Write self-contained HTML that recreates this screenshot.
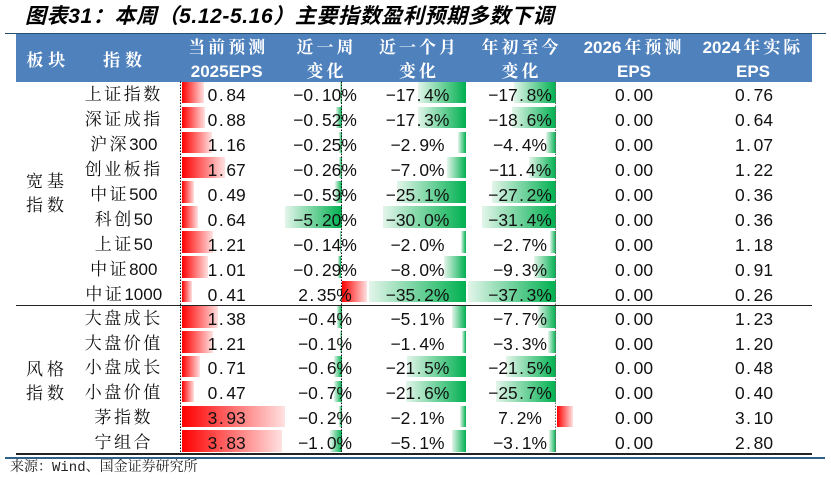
<!DOCTYPE html>
<html><head><meta charset="utf-8">
<style>
*{margin:0;padding:0}
body{width:831px;height:479px;background:#fff;position:relative;overflow:hidden;font-family:"Liberation Sans","Noto Serif CJK SC",serif;color:#111}
.title{position:absolute;left:25px;top:4.5px;line-height:24px;font-size:21px;letter-spacing:0.6px;font-weight:bold;font-style:italic;font-family:"Liberation Sans","Noto Sans CJK SC",sans-serif;white-space:nowrap;color:#000}
.ln{position:absolute}
.hd{position:absolute;left:16px;top:34px;width:796px;height:47.5px;background:#4f81bd}
.h{position:absolute;top:36.1px;width:140px;text-align:center;line-height:24px;font-size:17px;font-weight:bold;color:#fff;white-space:nowrap;font-family:"Liberation Sans","Noto Serif CJK SC",serif}
.h s{text-decoration:none;letter-spacing:3px;padding-left:3px}
.h.one{top:49.1px}
.h.one s{letter-spacing:5px;padding-left:5px}
.blk{position:absolute;left:5px;width:80px;text-align:center;line-height:24px;font-size:17px;white-space:nowrap}
.blk s{text-decoration:none;letter-spacing:4px;padding-left:4px}
.row{position:absolute;left:0;width:831px;height:25px}
.t{position:absolute;top:2.8px;width:120px;height:25px;line-height:24.9px;text-align:center;font-size:17.4px;white-space:nowrap;z-index:2;color:#111}
.t.a{font-size:17px}
.lw .t{top:1.6px}
.t s{text-decoration:none;letter-spacing:2.5px;padding-left:2.5px}
.t i{font-style:normal;display:inline-block;width:9px;text-indent:1.5px;text-align:left}
.a{left:62.5px}.c3{left:166.7px}.c4{left:265px}.c5{left:357.5px}.c6{left:460px}.c7{left:574px}.c8{left:694px}
b{position:absolute;top:1.3px;height:21.4px;display:block}
b.r{background:linear-gradient(90deg,#ff0000,#ffe1e1)}
b.g{background:linear-gradient(270deg,#00b050,#e3f5ea)}
svg{position:absolute;left:0;top:0;z-index:1}
.src{position:absolute;left:10px;top:459px;line-height:18px;font-size:14px;font-family:"Liberation Mono","Noto Serif CJK SC",serif;color:#222;white-space:nowrap}
</style></head><body>
<div class="title">图表31：本周（5.12-5.16）主要指数盈利预期多数下调</div>
<div class="ln" style="left:5px;top:32.6px;width:821px;height:1.8px;background:#24506e"></div>
<div class="hd"></div>
<div class="h one" style="left:-24.2px"><s>板块</s></div>
<div class="h one" style="left:52.5px"><s>指数</s></div>
<div class="h" style="left:156.7px"><s>当前预测</s><br>2025EPS</div>
<div class="h" style="left:255px"><s>近一周</s><br><s>变化</s></div>
<div class="h" style="left:347.5px"><s>近一个月</s><br><s>变化</s></div>
<div class="h" style="left:450px"><s>年初至今</s><br><s>变化</s></div>
<div class="h" style="left:564px">2026<s>年预测</s><br>EPS</div>
<div class="h" style="left:683px">2024<s>年实际</s><br>EPS</div>

<div class="blk" style="top:169.6px"><s>宽基</s><br><s>指数</s></div>
<div class="blk" style="top:357.6px"><s>风格</s><br><s>指数</s></div>

<div class="row" style="top:80.6px">
<b class="r" style="left:181.5px;width:22px"></b>
<b class="g" style="left:340px;width:1.5px"></b>
<b class="g" style="left:418px;width:48px"></b>
<b class="g" style="left:514.2px;width:41.8px"></b>
<div class="t a"><s>上证指数</s></div><div class="t c3">0<i>.</i>84</div><div class="t c4">−0<i>.</i>10%</div><div class="t c5">−17<i>.</i>4%</div><div class="t c6">−17<i>.</i>8%</div><div class="t c7">0<i>.</i>00</div><div class="t c8">0<i>.</i>76</div>
</div>
<div class="row" style="top:105.5px">
<b class="r" style="left:181.5px;width:23.1px"></b>
<b class="g" style="left:335.5px;width:6px"></b>
<b class="g" style="left:418.3px;width:47.7px"></b>
<b class="g" style="left:512.3px;width:43.7px"></b>
<div class="t a"><s>深证成指</s></div><div class="t c3">0<i>.</i>88</div><div class="t c4">−0<i>.</i>52%</div><div class="t c5">−17<i>.</i>3%</div><div class="t c6">−18<i>.</i>6%</div><div class="t c7">0<i>.</i>00</div><div class="t c8">0<i>.</i>64</div>
</div>
<div class="row" style="top:130.4px">
<b class="r" style="left:181.5px;width:30.4px"></b>
<b class="g" style="left:338.5px;width:3px"></b>
<b class="g" style="left:458px;width:8px"></b>
<b class="g" style="left:545.7px;width:10.3px"></b>
<div class="t a"><s>沪深</s>300</div><div class="t c3">1<i>.</i>16</div><div class="t c4">−0<i>.</i>25%</div><div class="t c5">−2<i>.</i>9%</div><div class="t c6">−4<i>.</i>4%</div><div class="t c7">0<i>.</i>00</div><div class="t c8">1<i>.</i>07</div>
</div>
<div class="row" style="top:155.3px">
<b class="r" style="left:181.5px;width:43.8px"></b>
<b class="g" style="left:338.5px;width:3px"></b>
<b class="g" style="left:446.7px;width:19.3px"></b>
<b class="g" style="left:529.2px;width:26.8px"></b>
<div class="t a"><s>创业板指</s></div><div class="t c3">1<i>.</i>67</div><div class="t c4">−0<i>.</i>26%</div><div class="t c5">−7<i>.</i>0%</div><div class="t c6">−11<i>.</i>4%</div><div class="t c7">0<i>.</i>00</div><div class="t c8">1<i>.</i>22</div>
</div>
<div class="row" style="top:180.2px">
<b class="r" style="left:181.5px;width:12.8px"></b>
<b class="g" style="left:334.5px;width:7px"></b>
<b class="g" style="left:396.7px;width:69.3px"></b>
<b class="g" style="left:492.1px;width:63.9px"></b>
<div class="t a"><s>中证</s>500</div><div class="t c3">0<i>.</i>49</div><div class="t c4">−0<i>.</i>59%</div><div class="t c5">−25<i>.</i>1%</div><div class="t c6">−27<i>.</i>2%</div><div class="t c7">0<i>.</i>00</div><div class="t c8">0<i>.</i>36</div>
</div>
<div class="row" style="top:205.1px">
<b class="r" style="left:181.5px;width:16.8px"></b>
<b class="g" style="left:284.5px;width:57px"></b>
<b class="g" style="left:383.2px;width:82.8px"></b>
<b class="g" style="left:482.2px;width:73.8px"></b>
<div class="t a"><s>科创</s>50</div><div class="t c3">0<i>.</i>64</div><div class="t c4">−5<i>.</i>20%</div><div class="t c5">−30<i>.</i>0%</div><div class="t c6">−31<i>.</i>4%</div><div class="t c7">0<i>.</i>00</div><div class="t c8">0<i>.</i>36</div>
</div>
<div class="row" style="top:230px">
<b class="r" style="left:181.5px;width:31.7px"></b>
<b class="g" style="left:339.7px;width:1.8px"></b>
<b class="g" style="left:460.5px;width:5.5px"></b>
<b class="g" style="left:549.7px;width:6.3px"></b>
<div class="t a"><s>上证</s>50</div><div class="t c3">1<i>.</i>21</div><div class="t c4">−0<i>.</i>14%</div><div class="t c5">−2<i>.</i>0%</div><div class="t c6">−2<i>.</i>7%</div><div class="t c7">0<i>.</i>00</div><div class="t c8">1<i>.</i>18</div>
</div>
<div class="row" style="top:254.9px">
<b class="r" style="left:181.5px;width:26.5px"></b>
<b class="g" style="left:338.1px;width:3.4px"></b>
<b class="g" style="left:443.9px;width:22.1px"></b>
<b class="g" style="left:534.1px;width:21.9px"></b>
<div class="t a"><s>中证</s>800</div><div class="t c3">1<i>.</i>01</div><div class="t c4">−0<i>.</i>29%</div><div class="t c5">−8<i>.</i>0%</div><div class="t c6">−9<i>.</i>3%</div><div class="t c7">0<i>.</i>00</div><div class="t c8">0<i>.</i>91</div>
</div>
<div class="row" style="top:279.8px">
<b class="r" style="left:181.5px;width:10.7px"></b>
<b class="r" style="left:342.3px;width:25px"></b>
<b class="g" style="left:368.8px;width:97.2px"></b>
<b class="g" style="left:468.3px;width:87.7px"></b>
<div class="t a"><s>中证</s>1000</div><div class="t c3">0<i>.</i>41</div><div class="t c4">2<i>.</i>35%</div><div class="t c5">−35<i>.</i>2%</div><div class="t c6">−37<i>.</i>3%</div><div class="t c7">0<i>.</i>00</div><div class="t c8">0<i>.</i>26</div>
</div>

<div class="row lw" style="top:305.2px">
<b class="r" style="left:181.5px;width:36.2px"></b>
<b class="g" style="left:337px;width:4.5px"></b>
<b class="g" style="left:451.9px;width:14.1px"></b>
<b class="g" style="left:537.9px;width:18.1px"></b>
<div class="t a"><s>大盘成长</s></div><div class="t c3">1<i>.</i>38</div><div class="t c4">−0<i>.</i>4%</div><div class="t c5">−5<i>.</i>1%</div><div class="t c6">−7<i>.</i>7%</div><div class="t c7">0<i>.</i>00</div><div class="t c8">1<i>.</i>23</div>
</div>
<div class="row lw" style="top:330px">
<b class="r" style="left:181.5px;width:31.7px"></b>
<b class="g" style="left:340px;width:1.5px"></b>
<b class="g" style="left:462.1px;width:3.9px"></b>
<b class="g" style="left:548.2px;width:7.8px"></b>
<div class="t a"><s>大盘价值</s></div><div class="t c3">1<i>.</i>21</div><div class="t c4">−0<i>.</i>1%</div><div class="t c5">−1<i>.</i>4%</div><div class="t c6">−3<i>.</i>3%</div><div class="t c7">0<i>.</i>00</div><div class="t c8">1<i>.</i>20</div>
</div>
<div class="row lw" style="top:354.8px">
<b class="r" style="left:181.5px;width:18.6px"></b>
<b class="g" style="left:334px;width:7.5px"></b>
<b class="g" style="left:406.7px;width:59.3px"></b>
<b class="g" style="left:505.5px;width:50.5px"></b>
<div class="t a"><s>小盘成长</s></div><div class="t c3">0<i>.</i>71</div><div class="t c4">−0<i>.</i>6%</div><div class="t c5">−21<i>.</i>5%</div><div class="t c6">−21<i>.</i>5%</div><div class="t c7">0<i>.</i>00</div><div class="t c8">0<i>.</i>48</div>
</div>
<div class="row lw" style="top:379.6px">
<b class="r" style="left:181.5px;width:12.3px"></b>
<b class="g" style="left:333.5px;width:8px"></b>
<b class="g" style="left:406.4px;width:59.6px"></b>
<b class="g" style="left:495.6px;width:60.4px"></b>
<div class="t a"><s>小盘价值</s></div><div class="t c3">0<i>.</i>47</div><div class="t c4">−0<i>.</i>7%</div><div class="t c5">−21<i>.</i>6%</div><div class="t c6">−25<i>.</i>7%</div><div class="t c7">0<i>.</i>00</div><div class="t c8">0<i>.</i>40</div>
</div>
<div class="row lw" style="top:404.4px">
<b class="r" style="left:181.5px;width:103px"></b>
<b class="g" style="left:338.5px;width:3px"></b>
<b class="g" style="left:460.2px;width:5.8px"></b>
<b class="r" style="left:556.5px;width:16.9px"></b>
<div class="t a"><s>茅指数</s></div><div class="t c3">3<i>.</i>93</div><div class="t c4">−0<i>.</i>2%</div><div class="t c5">−2<i>.</i>1%</div><div class="t c6">7<i>.</i>2%</div><div class="t c7">0<i>.</i>00</div><div class="t c8">3<i>.</i>10</div>
</div>
<div class="row lw" style="top:429.2px">
<b class="r" style="left:181.5px;width:100.3px"></b>
<b class="g" style="left:329.5px;width:12px"></b>
<b class="g" style="left:451.9px;width:14.1px"></b>
<b class="g" style="left:548.7px;width:7.3px"></b>
<div class="t a"><s>宁组合</s></div><div class="t c3">3<i>.</i>83</div><div class="t c4">−1<i>.</i>0%</div><div class="t c5">−5<i>.</i>1%</div><div class="t c6">−3<i>.</i>1%</div><div class="t c7">0<i>.</i>00</div><div class="t c8">2<i>.</i>80</div>
</div>

<svg width="831" height="479">
<line x1="180.5" y1="81.5" x2="180.5" y2="453.5" stroke="#111" stroke-width="1" stroke-dasharray="1.5 1.5"/>
<line x1="341.5" y1="81.5" x2="341.5" y2="453.5" stroke="#111" stroke-width="1" stroke-dasharray="1.5 1.5"/>
<line x1="555.5" y1="81.5" x2="555.5" y2="453.5" stroke="#666" stroke-width="1" stroke-dasharray="1.5 1.5"/>
</svg>

<div class="ln" style="left:16px;top:304.6px;width:796px;height:1.2px;background:#222"></div>
<div class="ln" style="left:16px;top:453.4px;width:796px;height:1.2px;background:#222"></div>
<div class="ln" style="left:5px;top:456.7px;width:820px;height:2px;background:#2e6286"></div>

<div class="src">来源：Wind、国金证券研究所</div>
</body></html>
